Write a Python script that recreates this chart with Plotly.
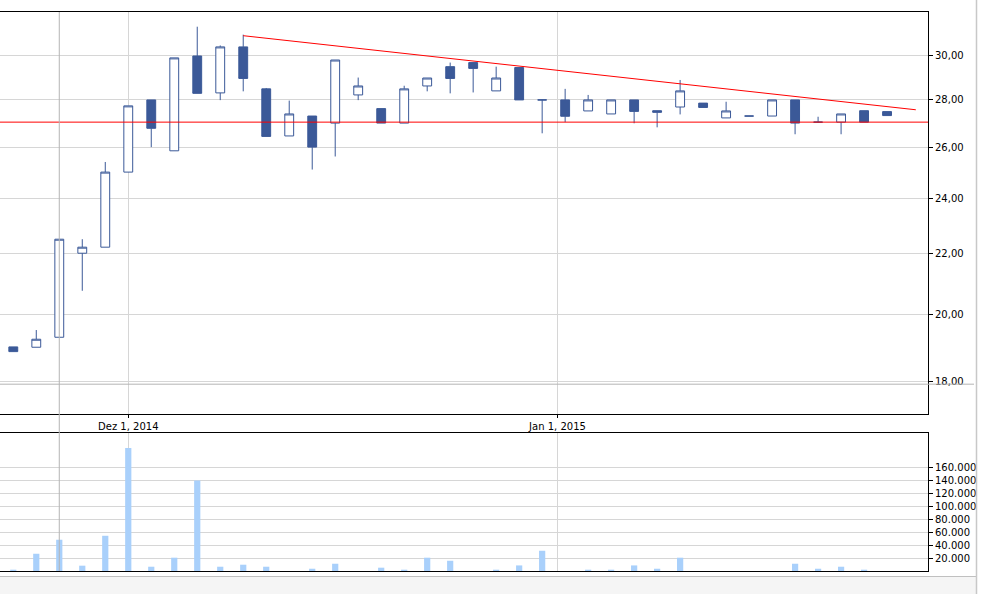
import datetime as dt
import plotly.graph_objects as go

# ---------------- data ----------------
dates = [
    "2014-11-24", "2014-11-25", "2014-11-26", "2014-11-27", "2014-11-28",
    "2014-12-01", "2014-12-02", "2014-12-03", "2014-12-04", "2014-12-05",
    "2014-12-08", "2014-12-09", "2014-12-10", "2014-12-11", "2014-12-12",
    "2014-12-15", "2014-12-16", "2014-12-17", "2014-12-18", "2014-12-19",
    "2014-12-22", "2014-12-23", "2014-12-29", "2014-12-30",
    "2015-01-02", "2015-01-05", "2015-01-06", "2015-01-07", "2015-01-08",
    "2015-01-09", "2015-01-12", "2015-01-13", "2015-01-14", "2015-01-15",
    "2015-01-16", "2015-01-19", "2015-01-20", "2015-01-21", "2015-01-22",
]
open_ = [19.00, 18.99, 19.29, 22.01, 22.22, 25.00, 28.00, 25.85, 30.00, 28.31,
         30.43, 28.49, 26.46, 27.30, 27.00, 28.22, 27.62, 27.00, 28.62, 29.50,
         29.69, 28.40, 29.46, 28.00, 28.00, 27.52, 27.39, 28.00, 27.53, 27.69,
         27.86, 27.22, 27.30, 27.30, 28.00, 27.04, 27.04, 27.53, 27.49]
high = [19.00, 19.51, 22.50, 22.50, 25.40, 27.74, 28.00, 29.91, 31.41, 30.50,
        31.02, 28.53, 27.97, 27.30, 29.81, 29.00, 27.62, 28.63, 28.98, 29.69,
        29.69, 29.50, 29.46, 28.00, 28.49, 28.22, 28.00, 28.00, 27.53, 28.89,
        27.86, 27.92, 27.30, 28.00, 28.00, 27.27, 27.39, 27.53, 27.49]
low = [18.86, 18.99, 19.29, 20.75, 22.22, 25.00, 26.00, 25.85, 28.29, 27.99,
       28.38, 26.44, 26.46, 25.10, 25.62, 27.99, 27.00, 27.00, 28.38, 28.29,
       28.33, 28.40, 28.00, 26.57, 27.04, 27.52, 27.39, 26.99, 26.82, 27.37,
       27.67, 27.22, 27.30, 27.30, 26.53, 27.04, 26.53, 27.04, 27.32]
close = [18.86, 19.23, 22.50, 22.22, 25.00, 27.74, 26.78, 29.91, 28.29, 30.43,
         28.96, 26.44, 27.39, 26.00, 29.81, 28.62, 27.00, 28.49, 28.98, 28.96,
         29.42, 28.98, 28.00, 28.00, 27.29, 28.00, 28.00, 27.50, 27.46, 28.40,
         27.67, 27.52, 27.30, 28.00, 27.00, 27.04, 27.39, 27.04, 27.32]
volume = [2000, 26600, 48200, 8200, 54300, 189700, 6600, 20500, 139400, 6600,
          9700, 6600, 0, 3500, 11200, 0, 5100, 2000, 20500, 15800,
          0, 2000, 8600, 31200, 0, 2000, 2000, 8600, 3500, 20500,
          0, 0, 0, 0, 11200, 3500, 6600, 2000, 0]

support_level = 27.04
trend_dates = ["2014-12-08", "2015-01-23"]
trend_values = [30.97, 27.57]

date_ticks = ["2014-12-01", "2015-01-01"]
date_tick_labels = ["Dez 1, 2014", "Jan 1, 2015"]
price_ticks = [18, 20, 22, 24, 26, 28, 30]
volume_ticks = [20000, 40000, 60000, 80000, 100000, 120000, 140000, 160000]
crosshair_date = "2014-11-26"
crosshair_price = 17.92

# ---------------- helpers ----------------
days = [dt.date.fromisoformat(d) for d in dates]
idx = list(range(len(days)))


def date_to_index(s):
    t = dt.date.fromisoformat(s)
    for i in range(len(days) - 1):
        if days[i] <= t < days[i + 1]:
            return i + (t - days[i]).days / (days[i + 1] - days[i]).days
    return 0


tick_pos = [date_to_index(d) for d in date_ticks]
trend_x = [date_to_index(trend_dates[0]), len(days) - 1 + 1.25]

BLUE = "#3b5998"
GRID = "#d6d6d6"
FONT = dict(family="DejaVu Sans", size=10, color="#000000")

fig = go.Figure()

fig.add_trace(go.Candlestick(
    x=idx, open=open_, high=high, low=low, close=close,
    increasing=dict(line=dict(color=BLUE, width=1), fillcolor="#ffffff"),
    decreasing=dict(line=dict(color=BLUE, width=1), fillcolor=BLUE),
    whiskerwidth=0, hoverinfo="skip", showlegend=False,
    xaxis="x", yaxis="y",
))

fig.add_trace(go.Scatter(
    x=[-5, len(days) + 5], y=[support_level, support_level], mode="lines",
    line=dict(color="#ff0000", width=1), hoverinfo="skip", showlegend=False,
    xaxis="x", yaxis="y",
))
fig.add_trace(go.Scatter(
    x=trend_x, y=trend_values, mode="lines",
    line=dict(color="#ff0000", width=1), hoverinfo="skip", showlegend=False,
    xaxis="x", yaxis="y",
))

fig.add_trace(go.Bar(
    x=idx, y=volume, width=0.27, marker=dict(color="#a9d0fb", line=dict(width=0)),
    hoverinfo="skip", showlegend=False, xaxis="x2", yaxis="y2",
))

xr = [-0.578, 39.78]
H_PLOT = 559.0
fig.update_layout(
    width=984, height=594,
    margin=dict(l=0, r=56, t=12, b=23),
    paper_bgcolor="#ffffff", plot_bgcolor="#ffffff",
    separators=",.",
    boxgap=0.45,
    font=FONT,
    showlegend=False,
    hovermode=False,
    xaxis=dict(
        domain=[0, 1], anchor="y", range=xr, type="linear",
        tickmode="array", tickvals=tick_pos, ticktext=date_tick_labels,
        showgrid=True, gridcolor=GRID, gridwidth=1,
        showline=True, mirror=True, linecolor="#000000", linewidth=1,
        ticks="outside", ticklen=3, tickcolor="#000000",
        tickfont=FONT, rangeslider=dict(visible=False), zeroline=False,
    ),
    yaxis=dict(
        domain=[(571 - 414.3) / H_PLOT, 1.0], anchor="x", side="right", type="log",
        range=[1.2328, 1.5071],
        tickmode="array", tickvals=price_ticks, tickformat=".2f",
        showgrid=True, gridcolor=GRID, gridwidth=1,
        showline=True, linecolor="#000000", linewidth=1,
        ticks="outside", ticklen=4, tickcolor="#000000",
        tickfont=FONT, zeroline=False,
    ),
    xaxis2=dict(
        domain=[0, 1], anchor="y2", range=xr, type="linear",
        tickmode="array", tickvals=tick_pos, showticklabels=False,
        showgrid=True, gridcolor=GRID, gridwidth=1,
        showline=True, mirror=True, linecolor="#000000", linewidth=1,
        ticks="", zeroline=False,
    ),
    yaxis2=dict(
        domain=[0, (571 - 433.3) / H_PLOT], anchor="x2", side="right",
        range=[0, 212300],
        tickmode="array", tickvals=volume_ticks, tickformat=",.0f",
        showgrid=True, gridcolor=GRID, gridwidth=1,
        showline=True, linecolor="#000000", linewidth=1,
        ticks="outside", ticklen=4, tickcolor="#000000",
        tickfont=FONT, zeroline=False,
    ),
)

PX = 928.0
shapes = [
    # bottom status strip
    dict(type="rect", xref="paper", yref="paper", x0=-0.01, x1=976.5 / PX,
         y0=(571 - 594) / H_PLOT, y1=(571 - 576.5) / H_PLOT,
         fillcolor="#f5f5f5", line=dict(width=0), layer="below"),
    dict(type="line", xref="paper", yref="paper", x0=-0.01, x1=976.5 / PX,
         y0=(571 - 576.5) / H_PLOT, y1=(571 - 576.5) / H_PLOT,
         line=dict(color="#c0c0c0", width=1)),
    # right separator
    dict(type="line", xref="paper", yref="paper", x0=976.5 / PX, x1=976.5 / PX,
         y0=(571 - 594) / H_PLOT, y1=(571 - 0) / H_PLOT,
         line=dict(color="#c8c8c8", width=1.5)),
    # crosshair
    dict(type="line", xref="x", yref="paper", x0=date_to_index(crosshair_date),
         x1=date_to_index(crosshair_date), y0=0, y1=1,
         line=dict(color="#b4b4b4", width=1)),
    dict(type="line", xref="paper", yref="y", x0=0, x1=974 / PX,
         y0=crosshair_price, y1=crosshair_price,
         line=dict(color="#b4b4b4", width=1)),
]
fig.update_layout(shapes=shapes)

fig.write_html(
    "out.html",
    config={"displayModeBar": False, "staticPlot": True},
    post_script="document.body.style.margin='0';document.body.style.overflow='hidden';",
)
